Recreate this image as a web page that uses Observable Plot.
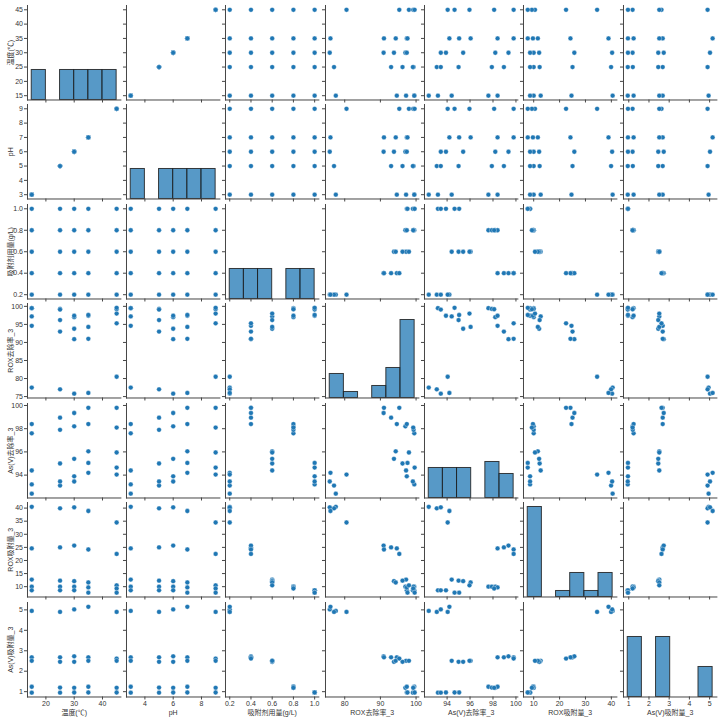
<!DOCTYPE html>
<html>
<head>
<meta charset="utf-8">
<script src="https://cdn.jsdelivr.net/npm/d3@7"></script>
<script src="https://cdn.jsdelivr.net/npm/@observablehq/plot@0.6"></script>
<style>
  body { margin: 0; background: #fff; }
  #chart { position: relative; width: 720px; height: 720px; overflow: hidden; background: #fff; }
  #chart svg { position: absolute; overflow: visible; }
</style>
</head>
<body>
<div id="chart"></div>
<script>
// ---- data: 25 experiments (5 temperature/pH levels x 5 adsorbent doses) ----
const temperature = [15,15,15,15,15, 25,25,25,25,25, 30,30,30,30,30, 35,35,35,35,35, 45,45,45,45,45];
const pH          = [3,3,3,3,3, 5,5,5,5,5, 6,6,6,6,6, 7,7,7,7,7, 9,9,9,9,9];
const dose        = [0.2,0.4,0.6,0.8,1.0, 0.2,0.4,0.6,0.8,1.0, 0.2,0.4,0.6,0.8,1.0, 0.2,0.4,0.6,0.8,1.0, 0.2,0.4,0.6,0.8,1.0];
const roxRemoval  = [77.5,94.6,97.2,99.5,99.5, 77.0,93.0,96.2,99.3,99.1, 75.8,90.9,93.8,97.0,97.4, 76.0,91.0,94.3,97.4,97.6, 80.5,95.3,98.0,99.2,99.6];
const asRemoval   = [92.4,98.4,94.4,97.6,93.2, 93.1,98.95,95.0,97.9,93.45, 93.45,99.35,95.4,98.2,93.9, 94.2,99.8,96.05,98.4,95.05, 94.05,99.8,95.95,98.1,94.65];
const roxAdsorb   = [40.5,24.6,12.7,10.0,8.6, 39.9,25.0,12.3,10.0,8.6, 40.3,25.7,12.1,10.0,8.6, 38.9,24.2,11.6,9.7,7.7, 34.5,22.5,10.5,9.3,7.7];
const asAdsorb    = [4.95,2.68,2.51,1.24,0.95, 4.90,2.68,2.46,1.20,0.95, 5.02,2.73,2.46,1.19,0.96, 5.15,2.68,2.51,1.24,0.96, 4.90,2.62,2.51,1.19,0.96];

const varNames = ["温度(℃)", "pH", "吸附剂用量(g/L)", "ROX去除率_3", "As(V)去除率_3", "ROX吸附量_3", "As(V)吸附量_3"];
const columns  = [temperature, pH, dose, roxRemoval, asRemoval, roxAdsorb, asAdsorb];

// tick labels
const xTicks = [[20,30,40], [4,6,8], [0.2,0.4,0.6,0.8,1.0], [80,90,100], [94,96,98,100], [10,20,30,40], [1,2,3,4,5]];
const yTicks = [[15,20,25,30,35,40,45], [3,4,5,6,7,8,9], [0.2,0.4,0.6,0.8,1.0], [75,80,85,90,95,100], [94,96,98,100], [10,15,20,25,30,35,40], [1,2,3,4,5]];
const tickFormats = [d3.format("d"), d3.format("d"), d3.format(".1f"), d3.format("d"), d3.format("d"), d3.format("d"), d3.format("d")];

// ---- layout ----
const N = varNames.length;
const PW = 93.4, PH = 94.5;          // panel size
const X0 = 26.7, Y0 = 4.5;           // first panel origin
const DX = 99.35, DY = 99.5;         // panel pitch
const ML = 30, MR = 6, MT = 6, MB = 26;
const BLUE = "#1f77b4";
const FONT = "'Liberation Sans', Arial, 'Noto Sans CJK SC', sans-serif";

// observation records
const records = temperature.map((_, r) => columns.map(c => c[r]));

// matplotlib-style 5% margins
const domains = columns.map(c => {
  const [lo, hi] = d3.extent(c);
  const pad = (hi - lo) * 0.05;
  return [lo - pad, hi + pad];
});

// numpy-like histogram with 6 equal bins (sturges for n=25)
function histogram(values, n) {
  const [lo, hi] = d3.extent(values);
  const step = (hi - lo) / n;
  const edges = d3.range(n + 1).map(i => lo + i * step);
  edges[n] = hi;
  const counts = new Array(n).fill(0);
  for (const v of values) {
    let k = Math.floor((v - lo) * n / (hi - lo));
    if (k >= n) k = n - 1;
    if (k < 0) k = 0;
    if (v < edges[k]) k -= 1;
    if (k < n - 1 && v >= edges[k + 1]) k += 1;
    counts[k]++;
  }
  return counts.map((c, i) => ({x0: edges[i], x1: edges[i + 1], count: c}));
}
const hists = columns.map(c => histogram(c, 6));
const maxCount = d3.max(hists.flat(), b => b.count);
const countTop = maxCount * 1.05;   // shared diagonal y-limit

const chart = document.getElementById("chart");

for (let i = 0; i < N; i++) {       // row -> y variable
  for (let j = 0; j < N; j++) {     // column -> x variable
    const leftCol = j === 0, bottomRow = i === N - 1;
    const yd = domains[i], xd = domains[j];
    const marks = [];

    if (i === j) {
      const bins = hists[j].filter(b => b.count > 0);
      marks.push(Plot.rect(bins, {
        x1: b => b.x0, x2: b => b.x1,
        y1: () => yd[0],
        y2: b => yd[0] + b.count / countTop * (yd[1] - yd[0]),
        fill: BLUE, fillOpacity: 0.75,
        stroke: "#1e1e1e", strokeOpacity: 0.85, strokeWidth: 1
      }));
    } else {
      marks.push(Plot.dot(records, {
        x: d => d[j], y: d => d[i],
        r: 2.4, fill: BLUE, stroke: "white", strokeWidth: 0.35
      }));
    }

    marks.push(
      Plot.frame({anchor: "left", stroke: "#444", strokeWidth: 1}),
      Plot.frame({anchor: "bottom", stroke: "#444", strokeWidth: 1}),
      Plot.axisX({ticks: xTicks[j], tickSize: 3, tickPadding: 1.5, stroke: "#444",
                  tickFormat: bottomRow ? tickFormats[j] : () => "", label: null}),
      Plot.axisY({ticks: yTicks[i], tickSize: 3, tickPadding: 1.5, stroke: "#444",
                  tickFormat: leftCol ? tickFormats[i] : () => "", label: null})
    );
    if (leftCol) {
      marks.push(Plot.text([varNames[i]], {
        frameAnchor: "left", dx: -16.4, rotate: -90, textAnchor: "middle",
        fontSize: 7, fill: "#333"
      }));
    }
    if (bottomRow) {
      marks.push(Plot.text([varNames[j]], {
        frameAnchor: "bottom", dy: 16, lineAnchor: "middle", textAnchor: "middle",
        fontSize: 7, fill: "#333"
      }));
    }

    const svg = Plot.plot({
      width: PW + ML + MR, height: PH + MT + MB,
      marginLeft: ML, marginRight: MR, marginTop: MT, marginBottom: MB,
      x: {domain: xd},
      y: {domain: yd},
      style: {background: "transparent", overflow: "visible", fontFamily: FONT, fontSize: "7px", color: "#333", maxWidth: "none"},
      marks
    });
    svg.style.left = (X0 + j * DX - ML) + "px";
    svg.style.top = (Y0 + i * DY - MT) + "px";
    chart.appendChild(svg);
  }
}
</script>
</body>
</html>
